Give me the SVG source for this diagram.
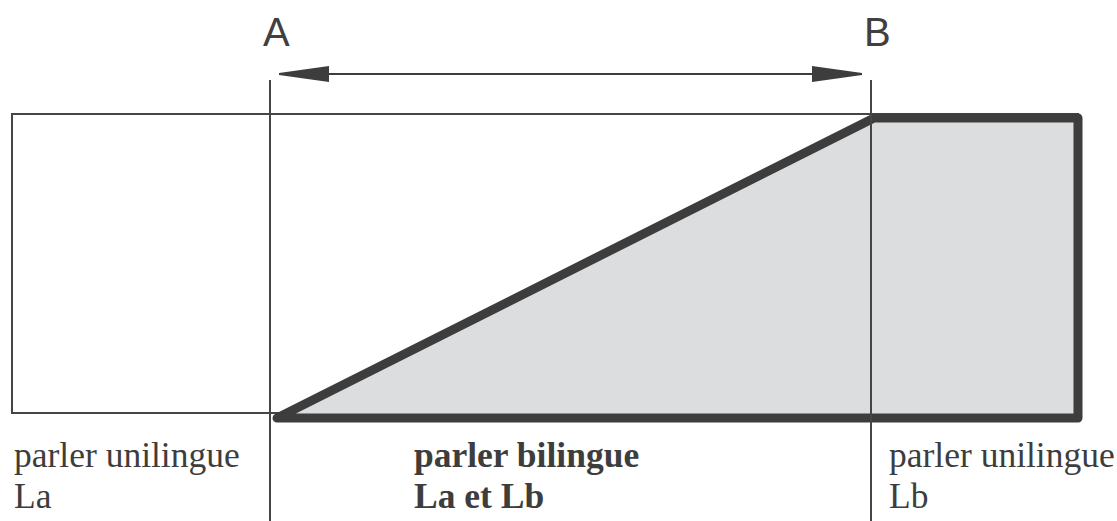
<svg xmlns="http://www.w3.org/2000/svg" width="1117" height="521" viewBox="0 0 1117 521">
<style>
.thin{fill:none;stroke:#454545;stroke-width:2}
.lbl{font-family:"Liberation Sans",Arial,sans-serif;font-size:40px;fill:#404040}
.txt{font-family:"Liberation Serif","Times New Roman",serif;font-size:35.5px;fill:#3d3d3d}
.b{font-weight:bold}
</style>
<defs>
<marker id="ah" viewBox="0 0 50 18" refX="50" refY="9" markerWidth="50" markerHeight="18" markerUnits="userSpaceOnUse" orient="auto-start-reverse">
<path d="M0,1 L50,8 L50,10 L0,17 Z" fill="#3d3d3d"/>
</marker>
</defs>
<rect width="1117" height="521" fill="#fff"/>
<g id="frame">
<rect class="thin" x="12" y="114" width="1066" height="299"/>
</g>
<g id="wedge">
<path d="M277,418 L874,118 L1078,118 L1078,418 Z" fill="#dcdddf" stroke="#3d3d3d" stroke-width="9" stroke-linejoin="round"/>
</g>
<g id="connectors">
<line class="thin" x1="270" y1="80" x2="270" y2="521"/>
<line class="thin" x1="871" y1="80" x2="871" y2="521"/>
<line x1="279" y1="74" x2="862" y2="74" stroke="#3d3d3d" stroke-width="2" marker-start="url(#ah)" marker-end="url(#ah)"/>
</g>
<g id="labelA"><text class="lbl" x="263" y="46">A</text></g>
<g id="labelB"><text class="lbl" x="864" y="46">B</text></g>
<g id="left">
<text class="txt" x="14" y="467">parler unilingue</text>
<text class="txt" x="14" y="508">La</text>
</g>
<g id="middle">
<text class="txt b" x="414" y="467">parler bilingue</text>
<text class="txt b" x="414" y="508">La et Lb</text>
</g>
<g id="right">
<text class="txt" x="889" y="467">parler unilingue</text>
<text class="txt" x="889" y="508">Lb</text>
</g>
</svg>
